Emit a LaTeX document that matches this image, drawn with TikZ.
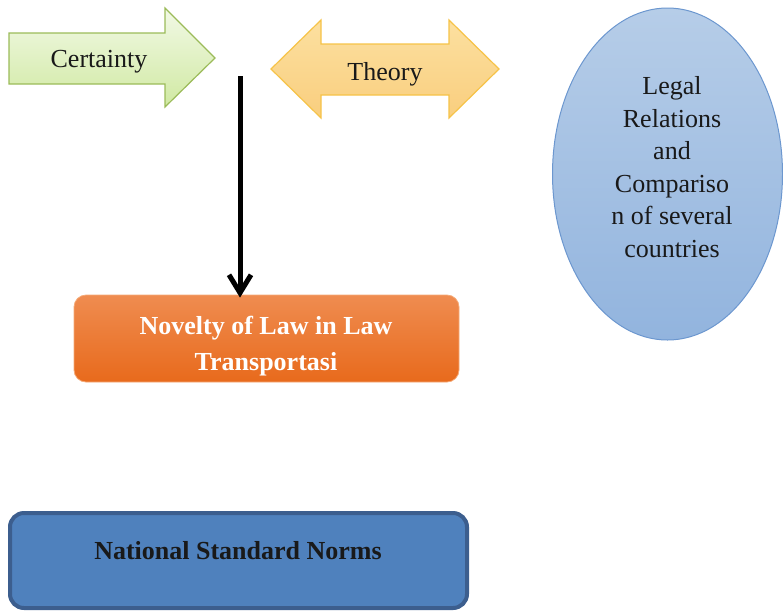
\documentclass[tikz,border=0pt]{standalone}
\usepackage{fontspec}
\setmainfont{Liberation Serif}
\usetikzlibrary{arrows.meta}
\definecolor{grnA}{RGB}{242,249,230}
\definecolor{grnB}{RGB}{208,233,162}
\definecolor{grnE}{RGB}{155,187,89}
\definecolor{ylwA}{RGB}{252,224,160}
\definecolor{ylwB}{RGB}{249,206,126}
\definecolor{ylwE}{RGB}{246,195,72}
\definecolor{eliA}{RGB}{182,205,232}
\definecolor{eliB}{RGB}{146,180,222}
\definecolor{eliE}{RGB}{108,151,207}
\definecolor{orA}{RGB}{239,140,80}
\definecolor{orB}{RGB}{232,106,28}
\definecolor{orE}{RGB}{245,170,120}
\definecolor{bluF}{RGB}{79,129,189}
\definecolor{bluE}{RGB}{60,94,142}
\tikzset{
  lbl/.style={font=\fontsize{26}{33}\selectfont, text=black!90, inner sep=0pt},
  boldlbl/.style={font=\fontsize{26}{36}\selectfont\bfseries, inner sep=0pt, align=center},
}
\begin{document}
\begin{tikzpicture}[x=1pt,y=-1pt]
\useasboundingbox (0,0) rectangle (783,611);
% Certainty arrow
\path[draw=grnE, line width=1.2pt, top color=grnA, bottom color=grnB, line join=miter]
  (9,33) -- (165,33) -- (165,8) -- (215,58) -- (165,107) -- (165,84) -- (9,84) -- cycle;
\node[lbl, anchor=base] (cert) at (99,67) {Certainty};
% Theory double arrow
\path[draw=ylwE, line width=1.2pt, top color=ylwA, bottom color=ylwB]
  (271,69) -- (321,20) -- (321,44) -- (449,44) -- (449,20) -- (499,69)
  -- (449,118) -- (449,95) -- (321,95) -- (321,118) -- cycle;
\node[lbl, anchor=base] (theo) at (385,80) {Theory};
% Ellipse
\path[draw=eliE, line width=1pt, top color=eliA, bottom color=eliB]
  (667.5,174) ellipse [x radius=115, y radius=166];
\node[lbl, align=center, font=\fontsize{26}{32.6}\selectfont] (legal) at (672,167) 
  {Legal\\Relations\\and\\Compariso\\n of several\\countries};
% Orange box
\node[draw=orE, line width=0.8pt, rounded corners=12pt, top color=orA, bottom color=orB,
      minimum width=385pt, minimum height=87pt, inner sep=0pt] (nov) at (266.5,338.5) {};
\node[boldlbl, text=white] (novt) at (266,346) {Novelty of Law in Law\\Transportasi};
% Blue box
\node[draw=bluE, line width=4pt, rounded corners=14pt, fill=bluF,
      minimum width=457pt, minimum height=95pt, inner sep=0pt] (nat) at (238.5,560.5) {};
\node[boldlbl, text=black!90] (natt) at (238,551) {National Standard Norms};
% Vertical connector
\coordinate (vs) at (240,76);
\draw[line width=5pt, -{Straight Barb[length=18pt,width=22pt]}] (vs) -- ([yshift=-3pt]vs |- nov.north);
\end{tikzpicture}
\end{document}
